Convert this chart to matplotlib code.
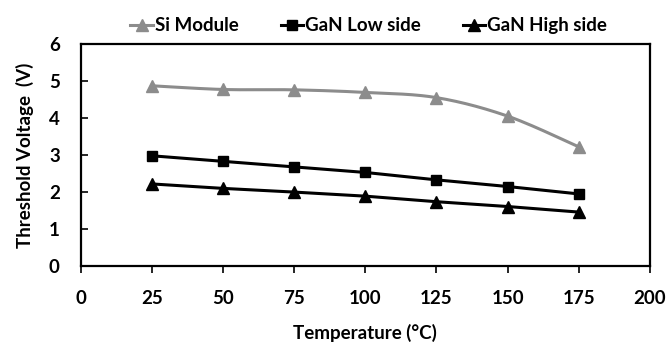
"""
Threshold voltage vs. temperature for Si module and GaN low/high side devices.
"""

import matplotlib.pyplot as plt
import numpy as np

TEMPS = [25, 50, 75, 100, 125, 150, 175]
SI_MODULE = [4.87, 4.77, 4.76, 4.69, 4.55, 4.05, 3.22]
GAN_LOW = [2.98, 2.83, 2.68, 2.53, 2.33, 2.15, 1.95]
GAN_HIGH = [2.22, 2.10, 2.00, 1.89, 1.74, 1.61, 1.46]

X_TICKS = [0, 25, 50, 75, 100, 125, 150, 175, 200]
Y_TICKS = [0, 1, 2, 3, 4, 5, 6]

GRAY = "#8c8c8c"

plt.rcParams["font.family"] = ["Lato", "DejaVu Sans"]
plt.rcParams["font.weight"] = "bold"


def smooth(x, y, n=30):
    # Catmull-Rom style curve through the points (like a spreadsheet "smoothed line")
    x = np.asarray(x, float)
    y = np.asarray(y, float)
    px = np.concatenate([[x[0]], x, [x[-1]]])
    py = np.concatenate([[y[0]], y, [y[-1]]])
    xs, ys = [], []
    t = np.linspace(0, 1, n)
    for i in range(1, len(px) - 2):
        p0 = np.array([px[i], py[i]])
        p3 = np.array([px[i + 1], py[i + 1]])
        p1 = p0 + (np.array([px[i + 1], py[i + 1]]) - np.array([px[i - 1], py[i - 1]])) / 6
        p2 = p3 - (np.array([px[i + 2], py[i + 2]]) - np.array([px[i], py[i]])) / 6
        b = ((1 - t) ** 3)[:, None] * p0 + (3 * (1 - t) ** 2 * t)[:, None] * p1 \
            + (3 * (1 - t) * t ** 2)[:, None] * p2 + (t ** 3)[:, None] * p3
        xs.extend(b[:, 0])
        ys.extend(b[:, 1])
    return np.array(xs), np.array(ys)


fig = plt.figure(figsize=(6.66, 3.43), dpi=100)
ax = fig.add_axes([0.121, 0.224, 0.855, 0.648])

sx, sy = smooth(TEMPS, SI_MODULE)
ax.plot(sx, sy, color=GRAY, linewidth=2.2, zorder=2)
ax.plot(TEMPS, SI_MODULE, linestyle="none", marker="^", markersize=8,
        color=GRAY, zorder=3)
ax.plot([], [], color=GRAY, linewidth=2.2, marker="^", markersize=8,
        label="Si Module")

ax.plot(TEMPS, GAN_LOW, color="black", linewidth=2.2, marker="s",
        markersize=7, label="GaN Low side", zorder=3)
ax.plot(TEMPS, GAN_HIGH, color="black", linewidth=2.2, marker="^",
        markersize=8, label="GaN High side", zorder=3)

ax.set_xlim(0, 200)
ax.set_ylim(0, 6)
ax.set_xticks(X_TICKS)
ax.set_yticks(Y_TICKS)
ax.tick_params(axis="x", direction="out", length=5, width=1.2, labelsize=13.5,
               pad=12)
ax.tick_params(axis="y", direction="in", length=5, width=1.2, labelsize=13.5,
               pad=15)
for spine in ax.spines.values():
    spine.set_linewidth(1.6)
    spine.set_color("black")

ax.set_xlabel("Temperature (°C)", fontsize=13.5, fontweight="bold",
              labelpad=12)
ax.set_ylabel("Threshold Voltage  (V)", fontsize=13.5, fontweight="bold",
              labelpad=11)

ax.legend(loc="lower center", bbox_to_anchor=(0.506, 1.01), ncol=3,
          frameon=False, fontsize=13.5, handlelength=1.2, handletextpad=0.1,
          columnspacing=2.25, borderaxespad=0.0)

fig.savefig("out.png", dpi=100)
